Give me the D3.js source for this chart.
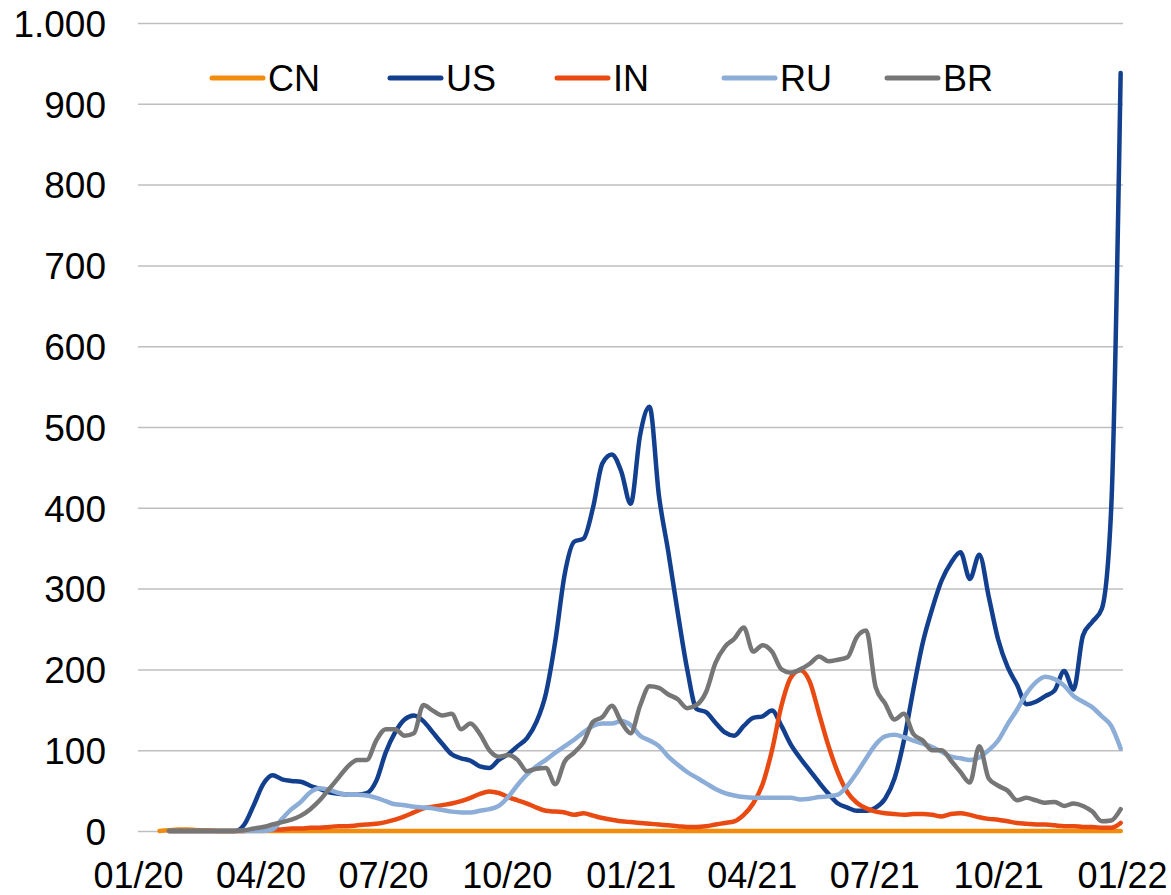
<!DOCTYPE html>
<html>
<head>
<meta charset="utf-8">
<script src="https://cdnjs.cloudflare.com/ajax/libs/d3/7.8.5/d3.min.js"></script>
<style>
  body { margin: 0; background: #fff; }
  text { font-family: "Liberation Sans", Arial, sans-serif; }
</style>
</head>
<body>
<div class="chart"></div>
<script>
// weekly points, 17.01.2020 .. 31.12.2021
var weeks = d3.timeDay.range(new Date(2020, 0, 17), new Date(2022, 0, 1), 7);

var countries = ["CN", "US", "IN", "RU", "BR"];
var colors = ["#f28c0c", "#123f8e", "#e84a12", "#8badd8", "#767676"];

var xTickDates = ["2020-01-01", "2020-04-01", "2020-07-01", "2020-10-01", "2021-01-01",
                  "2021-04-01", "2021-07-01", "2021-10-01", "2022-01-01"];
var yTicks = [0, 100, 200, 300, 400, 500, 600, 700, 800, 900, 1000];

var cnValues = [
  0, 1, 2, 2, 1, 1, 0, 0, 0, 0,
  0, 0, 0, 0, 0, 0, 0, 0, 0, 0,
  0, 0, 0, 0, 0, 0, 0, 0, 0, 0,
  0, 0, 0, 0, 0, 0, 0, 0, 0, 0,
  0, 0, 0, 0, 0, 0, 0, 0, 0, 0,
  0, 0, 0, 0, 0, 0, 0, 0, 0, 0,
  0, 0, 0, 0, 0, 0, 0, 0, 0, 0,
  0, 0, 0, 0, 0, 0, 0, 0, 0, 0,
  0, 0, 0, 0, 0, 0, 0, 0, 0, 0,
  0, 0, 0, 0, 0, 0, 0, 0, 0, 0,
  0, 0, 0
];

var usValues = [
  null, 0, 0, 0, 0, 0, 0, 0, 0, 8,
  32, 58, 69, 64, 62, 61, 56, 52, 48, 46,
  45, 45, 47, 62, 97, 122, 138, 143, 136, 122,
  108, 95, 90, 87, 80, 78, 88, 95, 105, 115,
  135, 170, 235, 318, 358, 362, 400, 455, 466, 445,
  405, 490, 525, 415, 345, 270, 200, 151, 147, 134,
  122, 118, 130, 140, 142, 149, 130, 107, 90, 75,
  60, 46, 34, 29, 25, 25, 29, 40, 65, 112,
  175, 233, 275, 310, 332, 345, 312, 342, 290, 237,
  203, 181, 157, 160, 167, 174, 198, 175, 242, 259,
  275, 400, 938
];

var inValues = [
  null, 0, 0, 0, 0, 0, 0, 0, 0, 0,
  1, 1, 2, 2, 3, 3, 4, 4, 5, 6,
  6, 7, 8, 9, 11, 14, 18, 23, 28, 30,
  32, 34, 37, 41, 46, 49, 47, 42, 38, 34,
  29, 25, 24, 23, 20, 22, 19, 16, 14, 12,
  11, 10, 9, 8, 7, 6, 5, 5, 6, 8,
  10, 12, 20, 34, 58, 100, 155, 190, 199, 185,
  145, 105, 72, 48, 35, 28, 24, 22, 21, 20,
  21, 21, 20, 18, 21, 22, 20, 17, 15, 14,
  12, 10, 9, 8, 8, 7, 6, 6, 5, 5,
  4, 4, 10
];

var ruValues = [
  null, 0, 0, 0, 0, 0, 0, 0, 0, 0,
  0, 0, 2, 15, 27, 36, 48, 53, 51, 47,
  45, 45, 44, 41, 37, 33, 32, 30, 29, 28,
  26, 24, 23, 23, 25, 27, 31, 42, 57, 70,
  80, 88, 97, 105, 113, 122, 130, 133, 133, 136,
  131, 118, 112, 105, 92, 82, 73, 66, 59, 52,
  47, 44, 42, 41, 41, 41, 41, 41, 39, 40,
  42, 43, 45, 56, 72, 90, 107, 117, 119, 116,
  112, 108, 104, 98, 92, 90, 88, 91, 100, 112,
  132, 150, 170, 184, 191, 188, 180, 167, 160, 153,
  142, 130, 102
];

var brValues = [
  null, 0, 0, 0, 0, 0, 0, 0, 0, 1,
  3, 5, 8, 11, 14, 19, 27, 38, 52, 66,
  80, 88, 88, 112, 126, 126, 118, 121, 156, 149,
  143, 145, 126, 133, 120, 100, 92, 94, 88, 74,
  77, 78, 58, 86, 97, 110, 135, 141, 155, 135,
  121, 155, 179, 177, 169, 163, 152, 156, 172, 208,
  228, 238, 252, 222, 230, 222, 200, 196, 200, 207,
  216, 210, 212, 215, 240, 248, 178, 158, 138, 145,
  120, 112, 100, 100, 87, 73, 60, 105, 65, 56,
  50, 38, 41, 38, 35, 36, 31, 34, 31, 24,
  12, 13, 27
];

var seriesValues = [cnValues, usValues, inValues, ruValues, brValues];

var svgW = 1171;
var svgH = 895;

var svg = d3.select(".chart")
    .append("svg")
    .attr("width", svgW)
    .attr("height", svgH)
    .style("display", "block");

var parseDay = d3.timeParse("%Y-%m-%d");

var xScale = d3.scaleTime()
    .domain([parseDay("2020-01-01"), parseDay("2022-01-01")])
    .range([138, 1122]);

var yScale = d3.scaleLinear()
    .domain([0, 1000])
    .range([831, 23]);

var deFormat = d3.formatLocale({ decimal: ",", thousands: ".", grouping: [3], currency: ["", " €"] }).format(",d");

// y gridlines + labels
var yAxis = svg.append("g")
    .attr("class", "y-axis")
    .attr("transform", "translate(138,0)")
    .call(d3.axisLeft(yScale)
        .tickValues(yTicks)
        .tickSize(-985)
        .tickPadding(32)
        .tickFormat(deFormat));

yAxis.select(".domain").remove();
yAxis.selectAll(".tick line")
    .attr("stroke", "#bfbfbf")
    .attr("stroke-width", 1.5);
yAxis.selectAll(".tick text")
    .attr("dy", "0.36em")
    .style("font-size", "37px")
    .style("font-family", "'Liberation Sans', Arial, sans-serif")
    .attr("fill", "#000");

// x labels
var xAxis = svg.append("g")
    .attr("class", "x-axis")
    .attr("transform", "translate(0,831)")
    .call(d3.axisBottom(xScale)
        .tickValues(xTickDates.map(parseDay))
        .tickSize(0)
        .tickPadding(31)
        .tickFormat(d3.timeFormat("%m/%y")));

xAxis.select(".domain").remove();
xAxis.selectAll(".tick text")
    .style("font-size", "36px")
    .style("font-family", "'Liberation Sans', Arial, sans-serif")
    .attr("fill", "#000");

// lines
var line = d3.line()
    .defined(function(d) { return d != null; })
    .x(function(d, i) { return xScale(weeks[i]); })
    .y(function(d) { return yScale(d); })
    .curve(d3.curveMonotoneX);

svg.append("g")
    .attr("class", "lines")
    .selectAll("path")
    .data(seriesValues)
    .enter()
    .append("path")
    .attr("d", line)
    .attr("fill", "none")
    .attr("stroke", function(d, i) { return colors[i]; })
    .attr("stroke-width", 4.5)
    .attr("stroke-linejoin", "round")
    .attr("stroke-linecap", "round");

// legend (entry offsets as Excel spaced them)
var legendOffsets = [210, 388, 555, 722, 885];

var legend = svg.append("g")
    .attr("class", "legend")
    .selectAll("g")
    .data(countries)
    .enter()
    .append("g")
    .attr("transform", function(d, i) { return "translate(" + legendOffsets[i] + ",0)"; });

legend.append("line")
    .attr("x1", 2)
    .attr("x2", 53)
    .attr("y1", 78)
    .attr("y2", 78)
    .attr("stroke", function(d, i) { return colors[i]; })
    .attr("stroke-width", 5)
    .attr("stroke-linecap", "round");

legend.append("text")
    .attr("x", 58)
    .attr("y", 91)
    .style("font-size", "36px")
    .attr("fill", "#000")
    .text(function(d) { return d; });
</script>
</body>
</html>
